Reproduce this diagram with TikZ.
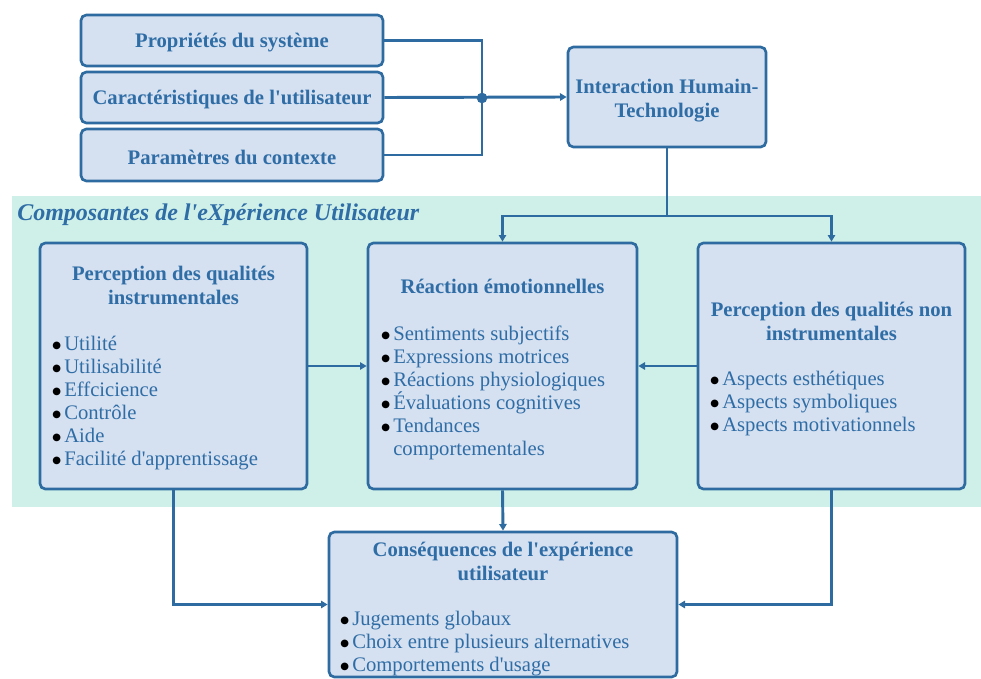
\documentclass[tikz,border=0pt]{standalone}
\usepackage{fontspec}
\setmainfont{Liberation Serif}[Ligatures=TeXOff]
\newfontfamily\dvs{DejaVu Sans}
\usetikzlibrary{arrows.meta}
\definecolor{bd}{HTML}{2E6BA0}
\definecolor{tx}{HTML}{2F6DA6}
\definecolor{fl}{HTML}{D5E0F0}
\definecolor{tl}{HTML}{CFF0E8}
\newcommand{\bu}{\makebox[9pt][l]{\textcolor{black}{\raisebox{1.1pt}{\dvs\fontsize{7.5}{9}\selectfont ●}}}}
\begin{document}
\begin{tikzpicture}[x=0.75pt,y=-0.75pt,
  box/.style={draw=bd, line width=2pt, fill=fl, rounded corners=4pt, inner sep=0pt},
  hd/.style={font=\bfseries\fontsize{15.5}{18}\selectfont, text=tx, align=center, inner sep=0pt},
  lst/.style={font=\fontsize{15.5}{17.25}\selectfont, text=tx, align=left, inner sep=0pt, anchor=north west},
  conn/.style={draw=bd, line width=2.2pt},
  arr/.style={conn, -{Triangle[length=5pt,width=5.5pt]}}]
\useasboundingbox (0,0) rectangle (981,678);
% background band
\fill[tl] (12,196) rectangle (981,507);
\node[font=\bfseries\itshape\fontsize{18}{20}\selectfont, text=tx, anchor=west, inner sep=0pt] (title) at (17,215) {Composantes de l'eXpérience Utilisateur};
% top boxes
\node[box, minimum width=226.5pt, minimum height=38.25pt] (p1) at (232,40.5) {};
\node[box, minimum width=226.5pt, minimum height=38.25pt] (p2) at (232,97.5) {};
\node[box, minimum width=226.5pt, minimum height=39pt] (p3) at (232,155) {};
\node[hd] (p1t) at ([yshift=-1.5pt]p1.center) {Propriétés du système};
\node[hd] (p2t) at ([yshift=-1.5pt]p2.center) {Caractéristiques de l'utilisateur};
\node[hd] (p3t) at ([yshift=-1.5pt]p3.center) {Paramètres du contexte};
\node[box, minimum width=148.5pt, minimum height=75pt] (ih) at (667,97) {};
\node[hd] (iht) at (667,100.5) {Interaction Humain-\\Technologie};
% middle boxes
\node[box, minimum width=200.25pt, minimum height=184.5pt] (lb) at (173.5,366) {};
\node[box, minimum width=201.75pt, minimum height=184.5pt] (mb) at (502.5,366) {};
\node[box, minimum width=200.25pt, minimum height=184.5pt] (rb) at (831.5,366) {};
\node[box, minimum width=261pt, minimum height=108.75pt] (cb) at (503,604.5) {};
\node[hd] (lbt) at (173.5,285.5) {Perception des qualités\\instrumentales};
\node[hd] (mbt) at (502.5,286.5) {Réaction émotionnelles};
\node[hd] (rbt) at (831.5,321.5) {Perception des qualités non\\instrumentales};
\node[hd] (cbt) at (503,561) {Conséquences de l'expérience\\utilisateur};
\node[lst] (lbl) at (52,335.5) {\bu Utilité\\\bu Utilisabilité\\\bu Effcicience\\\bu Contrôle\\\bu Aide\\\bu Facilité d'apprentissage};
\node[lst] (mbl) at (381,325.5) {\bu Sentiments subjectifs\\\bu Expressions motrices\\\bu Réactions physiologiques\\\bu Évaluations cognitives\\\bu Tendances\\\hspace*{9pt}comportementales};
\node[lst] (rbl) at (710,370.5) {\bu Aspects esthétiques\\\bu Aspects symboliques\\\bu Aspects motivationnels};
\node[lst] (cbl) at (340,610.5) {\bu Jugements globaux\\\bu Choix entre plusieurs alternatives\\\bu Comportements d'usage};
% connectors
\coordinate (jn) at (482,98);
\coordinate (sp) at (667,216);
\draw[conn] (p1.east) -| (jn);
\draw[conn] (p3.east) -| (jn);
\draw[arr] (p2.east) -- (ih.west);
\fill[bd] (jn) circle (4pt);
\draw[conn] (ih.south) -- (sp);
\draw[arr] (sp) -| (mb.north);
\draw[arr] (sp) -| (rb.north);
\draw[arr] (lb.east) -- (mb.west);
\draw[arr] (rb.west) -- (mb.east);
\draw[arr] (mb.south) -- (cb.north);
\draw[arr] (lb.south) |- (cb.west);
\draw[arr] (rb.south) |- (cb.east);
\end{tikzpicture}
\end{document}
